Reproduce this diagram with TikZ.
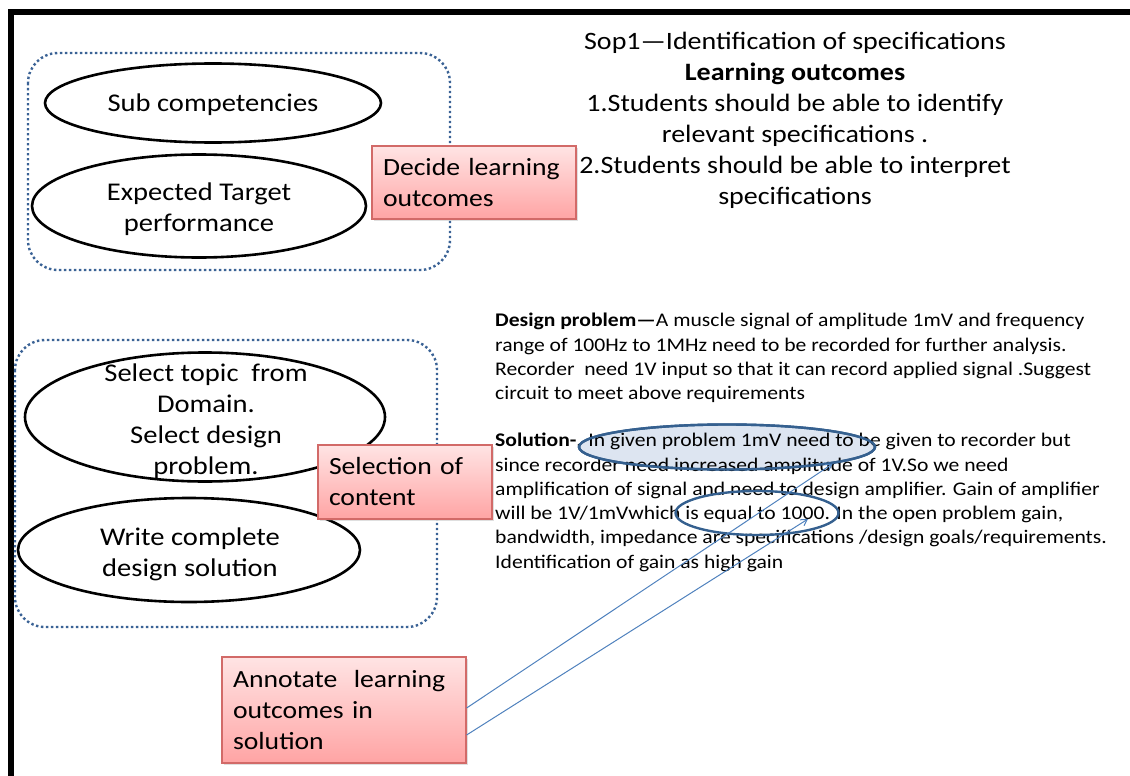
\documentclass[tikz,border=0pt]{standalone}
\usepackage{fontspec}
\setmainfont{Carlito}[FakeStretch=1.12]
\usetikzlibrary{shapes.geometric,shadows,arrows.meta}

\definecolor{grpblue}{HTML}{3A6295}
\definecolor{pinkedge}{HTML}{D26A68}
\definecolor{pinktop}{HTML}{FFE4E4}
\definecolor{pinkbot}{HTML}{FFA4A4}
\definecolor{markedge}{HTML}{35608F}
\definecolor{markfill}{HTML}{DDE5F1}
\definecolor{arrowblue}{HTML}{4F81BD}

\tikzset{
  group/.style={draw=grpblue, line width=2.4pt, dash pattern=on 2.4pt off 2.6pt, rounded corners=30pt},
  ellbox/.style={ellipse, draw=black, line width=2.6pt, inner sep=0pt},
  elltext/.style={font=\fontsize{25.5}{31}\selectfont, align=center, inner sep=0pt},
  pinkbox/.style={rectangle, draw=pinkedge, line width=1.2pt, top color=pinktop, bottom color=pinkbot,
    drop shadow={opacity=0.25, shadow xshift=2pt, shadow yshift=-2pt},
    font=\fontsize{24.7}{31}\selectfont, align=left, inner xsep=11pt, inner ysep=0pt},
  bodytext/.style={font=\fontsize{19.3}{24.3}\selectfont, align=left, inner sep=0pt, anchor=north west},
  markring/.style={ellipse, draw=markedge, line width=2.4pt, inner sep=0pt},
  annarrow/.style={draw=arrowblue, line width=1pt, -{Straight Barb[length=6pt,width=7pt]}}
}

\begin{document}
\begin{tikzpicture}[x=1pt,y=-1pt]
\useasboundingbox (0,0) rectangle (1130,776);

% slide frame
\fill[black] (7.5,9.5) rectangle (1130,15.5);
\fill[black] (7.5,9.5) rectangle (13.5,776);

% upper group: competencies
\draw[group] (28,53) rectangle (450,270);
\node[ellbox, minimum width=336pt, minimum height=79pt] (subc) at (213,103) {};
\node[elltext] (subctext) at (213,105) {Sub competencies};
\node[ellbox, minimum width=334pt, minimum height=103pt] (target) at (199,206) {};
\node[elltext] (targettext) at (199,209) {Expected Target\\performance};
\node[pinkbox, minimum width=204pt, minimum height=73pt, text width=182pt] (decide) at (474,182.5) {Decide learning\\outcomes};

% learning outcomes
\node[font=\fontsize{25}{31}\selectfont, align=center, inner sep=0pt] (outcomes) at (795,120)
  {Sop1\textemdash Identification of specifications\\
   \textbf{Learning outcomes}\\
   1.Students should be able to identify\\
   relevant specifications .\\
   2.Students should be able to interpret\\
   specifications};

% lower group: content
\draw[group] (15,340) rectangle (437,627);
\node[ellbox, minimum width=360pt, minimum height=129pt] (topic) at (205,417) {};
\node[elltext] (topictext) at (206,421) {Select topic\ \ from\\Domain.\\Select design\\problem.};
\node[ellbox, minimum width=342pt, minimum height=104pt] (write) at (189,550) {};
\node[elltext] (writetext) at (190,554) {Write complete\\design solution};
\node[pinkbox, minimum width=174pt, minimum height=74pt, text width=152pt] (content) at (405,482) {Selection of\\content};

% highlighted phrase sits behind the solution text
\node[markring, fill=markfill, minimum width=296pt, minimum height=45pt] (ring1) at (727,447) {};

% design problem and solution
\node[bodytext] (problem) at (495,313)
  {\textbf{Design problem\textemdash}A muscle signal of amplitude 1mV and frequency\\
   range of 100Hz to 1MHz need to be recorded for further analysis.\\
   Recorder\ \ need 1V input so that it can record applied signal .Suggest\\
   circuit to meet above requirements};
\node[bodytext] (solution) at (495,433)
  {\textbf{Solution-}. In given problem 1mV need to be given to recorder but\\
   since recorder need increased amplitude of 1V.So we need\\
   amplification of signal and need to design amplifier. Gain of amplifier\\
   will be 1V/1mVwhich is equal to 1000. In the open problem gain,\\
   bandwidth, impedance are specifications /design goals/requirements.\\
   Identification of gain as high gain};

% outline of the highlight and the second ring drawn over the text
\draw[markedge, line width=2.4pt] (ring1.center) ellipse [x radius=148, y radius=22.5];
\node[markring, minimum width=163pt, minimum height=44pt] (ring2) at (757,513) {};
\coordinate (tip2) at (808,519);

% annotate box and its pointers
\node[pinkbox, minimum width=244pt, minimum height=106pt, text width=222pt] (annotate) at (344,710)
  {Annotate\ \ learning\\outcomes in\\solution};
\draw[annarrow] ([yshift=2pt]annotate.east) -- (ring1.-9);
\draw[annarrow] ([yshift=-25pt]annotate.east) -- (tip2);
\end{tikzpicture}
\end{document}
